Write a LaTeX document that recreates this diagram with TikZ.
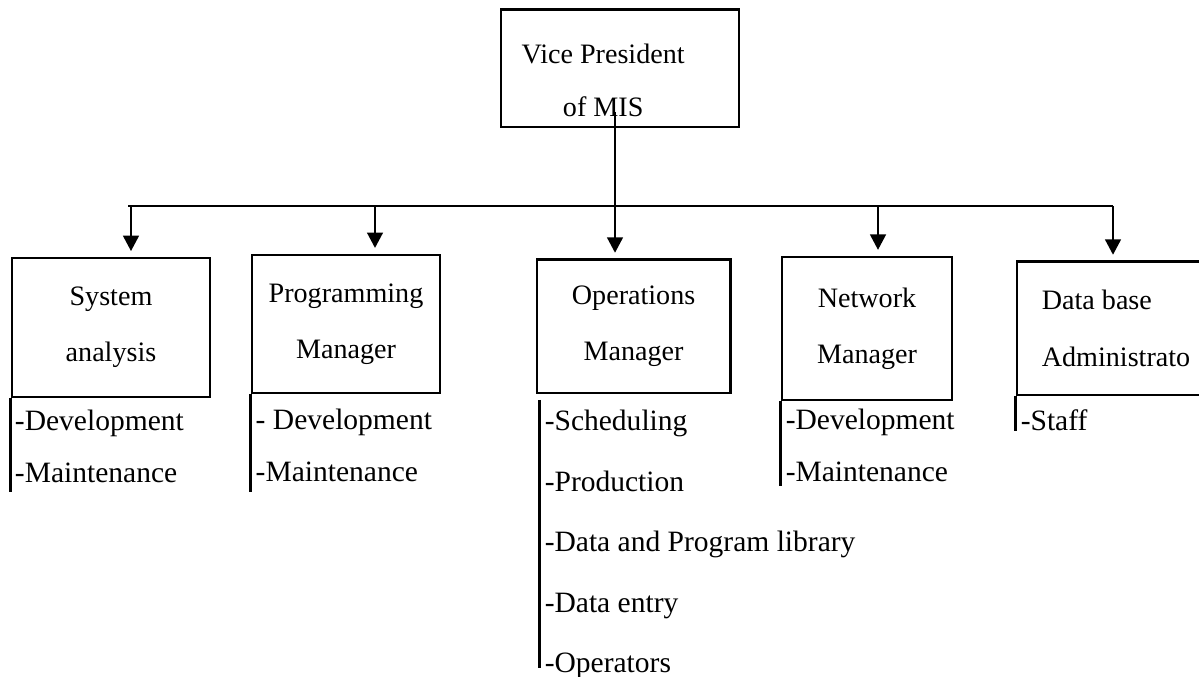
\documentclass[tikz,border=0pt]{standalone}
\usepackage{fontspec}
\setmainfont{Liberation Serif}
\usetikzlibrary{arrows.meta,positioning}

\begin{document}
\begin{tikzpicture}[y=-1cm,
  b/.style={draw,line width=1.9pt,align=center,inner sep=0pt,font=\fontsize{20}{40}\selectfont},
  l/.style={align=left,inner sep=0pt,font=\fontsize{21}{37}\selectfont},
  w/.style={line width=2.1pt},
  >={Triangle[width=11pt,length=11pt]}]
\useasboundingbox (0,0) rectangle (29.975,16.925);
% boxes
\node[b,minimum width=5.95cm,minimum height=2.93cm] (vp) at (15.5,1.71) {};
\node[b,draw=none,font=\fontsize{20}{38}\selectfont] (vpt) at ([xshift=-0.42cm,yshift=-0.3cm]vp.center) {Vice President\\of MIS};
\node[b,minimum width=4.95cm,minimum height=3.475cm] (sys) at (2.775,8.19) {System\\analysis};
\node[b,minimum width=4.7cm,minimum height=3.45cm] (prog) at (8.65,8.1) {Programming\\Manager};
\node[b,minimum width=4.83cm,minimum height=3.33cm] (ops) at (15.84,8.16) {Operations\\Manager};
\node[b,minimum width=4.25cm,minimum height=3.575cm] (net) at (21.675,8.21) {Network\\Manager};
\node[b,align=left,minimum width=4.95cm,minimum height=3.33cm] (dba) at (27.9,8.21) {Data base\\Administrato};
% duties under each box
\node[l,below right=0.27cm and 0.1cm of sys.south west] (sysl) {-Development\\-Maintenance};
\node[l,below right=0.35cm and 0.12cm of prog.south west] (progl) {- Development\\-Maintenance};
\node[l,below right=0.39cm and 0.22cm of ops.south west,font=\fontsize{21}{43}\selectfont] (opsl)
  {-Scheduling\\-Production\\-Data and Program library\\-Data entry\\-Operators};
\node[l,below right=0.19cm and 0.12cm of net.south west] (netl) {-Development\\-Maintenance};
\node[l,below right=0.32cm and 0.12cm of dba.south west] (dbal) {-Staff};
\draw[w] (sys.south west) -- ([yshift=-7pt]sys.south west |- sysl.south);
\draw[w] (prog.south west) -- ([yshift=-7pt]prog.south west |- progl.south);
\draw[w] ([xshift=3pt,yshift=-4pt]ops.south west) -- ([xshift=3pt,yshift=8pt]ops.south west |- opsl.south);
\draw[w] (net.south west) -- ([yshift=-3pt]net.south west |- netl.south);
\draw[w] (dba.south west) -- (dba.south west |- dbal.south);
% reporting lines
\coordinate (top) at (15.375,2.8);
\foreach \n/\x in {sys/3.275,prog/9.375,ops/15.375,net/21.95,dba/27.825}
  \coordinate (a\n) at (\x,5.15);
\draw[w] (top) -- (aops);
\draw[w] ([xshift=-2pt]asys) -- (adba);
\foreach \n in {sys,prog,ops,net,dba}
  \draw[w,->,shorten >=4pt] (a\n) -- (a\n |- \n.north);
\end{tikzpicture}
\end{document}
